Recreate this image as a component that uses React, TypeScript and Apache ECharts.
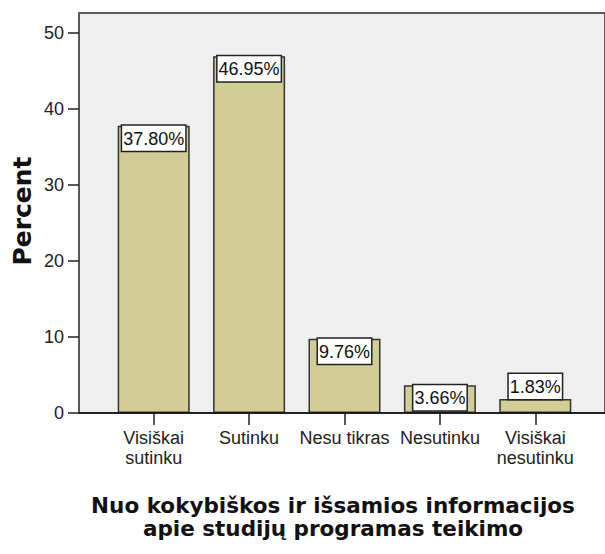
import React, { useEffect, useRef } from "react";
import * as echarts from "echarts";

const categories = ["Visiškai\nsutinku", "Sutinku", "Nesu tikras", "Nesutinku", "Visiškai\nnesutinku"];
const percents = [37.8, 46.95, 9.76, 3.66, 1.83];
const yTicks = [0, 10, 20, 30, 40, 50];
const yTitle = "Percent";
const xTitle = "Nuo kokybiškos ir išsamios informacijos\napie studijų programas teikimo";

export default function App() {
  const ref = useRef<HTMLDivElement>(null);
  useEffect(() => {
    if (!ref.current) return;
    const chart = echarts.init(ref.current, null, { renderer: "svg" });
    const sans = "'Liberation Sans', Arial, sans-serif";
    const yMin = yTicks[0];
    const yMax = yTicks[yTicks.length - 1];
    const yStep = yTicks[1] - yTicks[0];
    const baseGraphics: any[] = [
      {
        id: "xline", type: "line",
        shape: { x1: 79, y1: 413, x2: 605, y2: 413 },
        style: { stroke: "#111", lineWidth: 1.5 },
        z: 100,
      },
      {
        id: "ytitle", type: "text", x: 22, y: 211, rotation: Math.PI / 2,
        style: {
          text: yTitle, font: "bold 25px 'DejaVu Sans', sans-serif", fill: "#111",
          align: "center", verticalAlign: "middle",
        },
      },
      {
        id: "xtitle", type: "text", x: 333, y: 494,
        style: {
          text: xTitle, font: "bold 21.5px 'DejaVu Sans', sans-serif", fill: "#111",
          align: "center", verticalAlign: "top", lineHeight: 23,
        },
      },
    ];
    chart.setOption({
      animation: false,
      grid: [
        {
          left: 79, top: 13, width: 560, height: 400,
          show: true, backgroundColor: "#efefef", borderColor: "#5a5a5a", borderWidth: 2,
        },
        { left: 106, top: 33, width: 477, height: 380 },
      ],
      xAxis: [
        { gridIndex: 0, type: "value", min: 0, max: 1, show: false },
        {
          gridIndex: 1, type: "category", data: categories,
          axisLine: { show: false },
          axisTick: { show: true, alignWithLabel: true, length: 12, lineStyle: { color: "#222", width: 1.5 } },
          axisLabel: { margin: 15, fontSize: 18, lineHeight: 20, color: "#222", fontFamily: sans, interval: 0 },
        },
      ],
      yAxis: [
        { gridIndex: 0, type: "value", min: 0, max: 1, show: false },
        {
          gridIndex: 1, type: "value", min: yMin, max: yMax, interval: yStep, offset: 27,
          axisLine: { show: false },
          axisTick: { show: false },
          axisLabel: { margin: 15, fontSize: 18, color: "#222", fontFamily: sans },
          splitLine: { show: false },
        },
      ],
      graphic: baseGraphics,
      series: [
        {
          type: "bar",
          xAxisIndex: 1, yAxisIndex: 1,
          barWidth: 72,
          data: percents.map((v) => ({
            value: v,
            label: { position: v >= 3 ? "insideTop" : "top" },
          })),
          itemStyle: { color: "#d2cd96", borderColor: "#333", borderWidth: 1.5 },
          label: {
            show: true, distance: 0,
            formatter: (p: any) => p.value.toFixed(2) + "%",
            backgroundColor: "#fff", borderColor: "#222", borderWidth: 1.5,
            padding: [4, 1, 3, 1],
            fontSize: 18, fontFamily: sans, color: "#111",
          },
        },
      ],
    });
    // y-axis tick marks placed through the library's own scale
    const x0 = chart.convertToPixel({ xAxisIndex: 0 }, 0) as number;
    const tickLines = yTicks.map((v, i) => {
      const py = chart.convertToPixel({ yAxisIndex: 1 }, v) as number;
      return {
        id: "ytick" + i, type: "line",
        shape: { x1: x0 - 11, y1: py, x2: x0, y2: py },
        style: { stroke: "#222", lineWidth: 1.5 },
        z: 100,
      };
    });
    chart.setOption({ graphic: [...baseGraphics, ...tickLines] });
    return () => chart.dispose();
  }, []);
  return <div ref={ref} style={{ position: "absolute", left: 0, top: 0, width: 605, height: 554 }} />;
}
